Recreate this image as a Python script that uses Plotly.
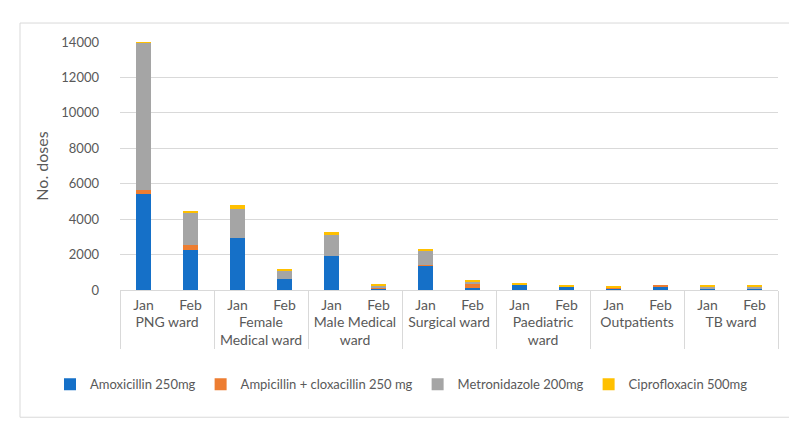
import plotly.graph_objects as go

wards = ["PNG ward", "Female<br>Medical ward", "Male Medical<br>ward", "Surgical ward",
         "Paediatric<br>ward", "Outpatients", "TB ward"]
months = ["Jan", "Feb"]

amoxicillin = [5400, 2280, 2930, 600, 1900, 90, 1400, 90, 290, 190, 80, 220, 80, 80]
ampicillin = [250, 240, 0, 0, 0, 30, 30, 260, 10, 10, 60, 60, 10, 10]
metronidazole = [8300, 1840, 1650, 500, 1200, 130, 800, 120, 10, 0, 0, 0, 90, 100]
ciprofloxacin = [100, 70, 230, 110, 190, 40, 50, 50, 50, 50, 50, 0, 70, 70]

series = [
    ("Amoxicillin 250mg", amoxicillin, "#1570C8"),
    ("Ampicillin + cloxacillin 250 mg", ampicillin, "#ED7D31"),
    ("Metronidazole 200mg", metronidazole, "#A5A5A5"),
    ("Ciprofloxacin 500mg", ciprofloxacin, "#FFC000"),
]

outer = [w for w in wards for _ in months]
inner = [m for _ in wards for m in months]

FONT = "Lato, 'Open Sans', sans-serif"
GREY = "#595959"
LINE = "#D9D9D9"

fig = go.Figure()
for name, vals, col in series:
    fig.add_trace(go.Bar(x=[outer, inner], y=vals, name=name,
                         marker=dict(color=col, line=dict(width=0))))

W, H = 797, 428
ml, mr, mt, mb = 112, 27, 34, 145.5
pw, ph = W - ml - mr, H - mt - mb

fig.update_layout(
    width=W, height=H,
    barmode="stack", bargap=0.68,
    plot_bgcolor="white", paper_bgcolor="white",
    margin=dict(l=ml, r=mr, t=mt, b=mb, pad=0),
    font=dict(family=FONT, size=13, color=GREY),
    showlegend=True,
    legend=dict(orientation="h", x=(42 - ml) / pw, xanchor="left",
                y=(mt + ph - 377) / ph, yanchor="middle",
                font=dict(size=13, color=GREY), traceorder="normal",
                itemclick=False),
    xaxis=dict(type="multicategory", showgrid=False, showline=True, linecolor=LINE,
               linewidth=1, ticks="", showdividers=True, dividercolor=LINE,
               dividerwidth=1, ticklabelstandoff=2, tickfont=dict(size=14, color=GREY)),
    yaxis=dict(range=[0, 14000], dtick=2000, tickformat="d", showgrid=True, gridcolor=LINE,
               gridwidth=1, zeroline=False, showline=False, ticks="",
               tickfont=dict(size=13, color=GREY), ticklabelstandoff=20,
               title=dict(text="No. doses", font=dict(size=16, color=GREY), standoff=8)),
    shapes=[dict(type="rect", xref="paper", yref="paper",
                 x0=(12 - ml) / pw, x1=(784 - ml) / pw,
                 y0=(mt + ph - 410) / ph, y1=(mt + ph - 15) / ph,
                 line=dict(color=LINE, width=1), fillcolor="rgba(0,0,0,0)", layer="below")],
)

fig.write_html("out.html")
